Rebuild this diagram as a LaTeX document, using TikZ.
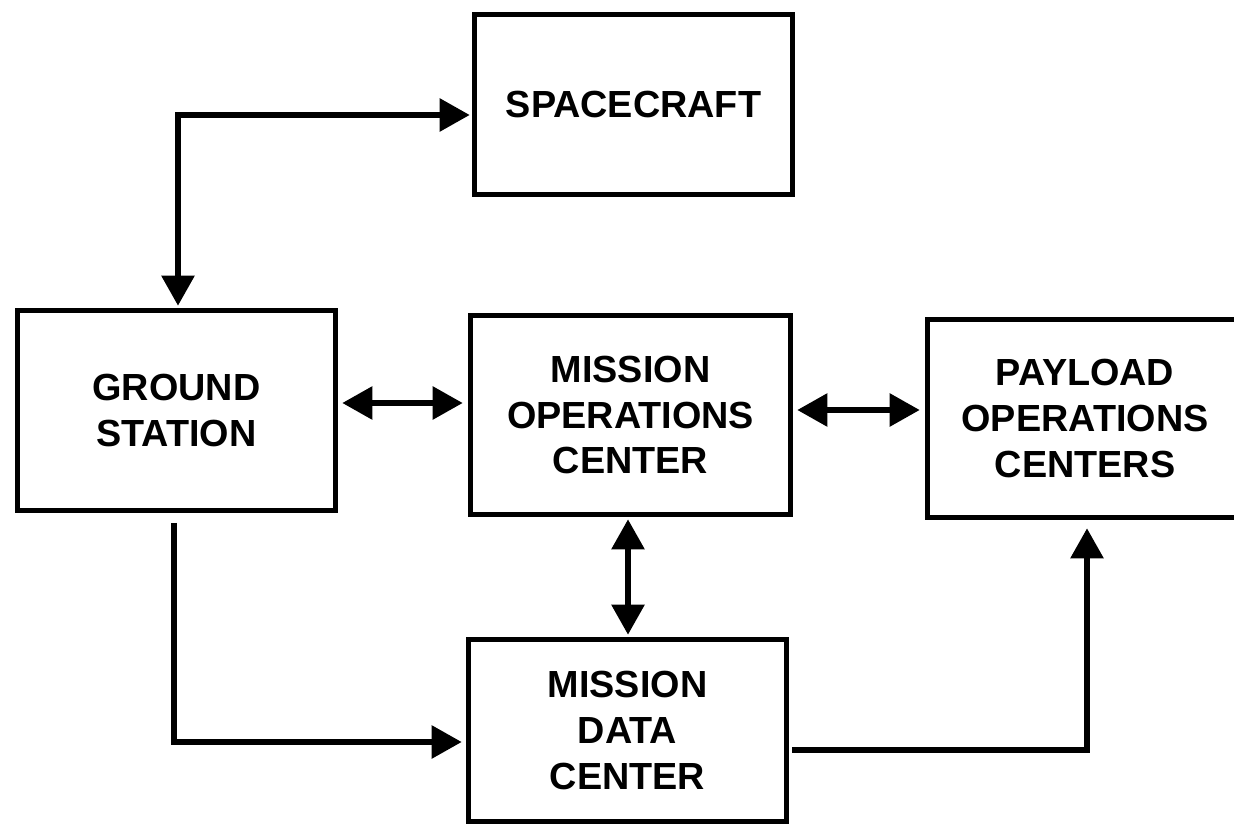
\documentclass[tikz,border=0pt]{standalone}
\usepackage{fontspec}
\setmainfont{Liberation Sans}
\usetikzlibrary{arrows.meta, positioning, calc}

\begin{document}
\begin{tikzpicture}[x=0.02cm, y=-0.02cm,
    every node/.style={font=\fontsize{21.5}{26}\selectfont\bfseries},
    block/.style={draw, line width=3.2pt, align=center, inner sep=0pt},
    link/.style={line width=3.2pt},
    both/.style={link, {Triangle[length=6mm, width=6.4mm]}-{Triangle[length=6mm, width=6.4mm]}},
    one/.style={link, -{Triangle[length=6mm, width=6.4mm]}}]
    \useasboundingbox (0,0) rectangle (1234,824);
    % blocks
    \node[block, minimum width=6.36cm, minimum height=3.6cm] (sc) at (633.5,104.5) {SPACECRAFT};
    \node[block, minimum width=6.36cm, minimum height=4cm] (gs) at (176.5,410.5) {GROUND\\STATION};
    \node[block, minimum width=6.4cm, minimum height=3.98cm] (moc) at (630.5,415) {MISSION\\OPERATIONS\\CENTER};
    \node[block, minimum width=6.3cm, minimum height=3.96cm] (poc) at (1085,418.5) {PAYLOAD\\OPERATIONS\\CENTERS};
    \node[block, minimum width=6.36cm, minimum height=3.64cm] (mdc) at (627.5,730.5) {MISSION\\DATA\\CENTER};
    % links
    \coordinate (up) at (178,115);
    \draw[both] ($(gs.north -| up)+(0,-2)$) |- ($(sc.west |- up)+(-2,0)$);
    \draw[both] ($(gs.east)+(4,-7.5)$) -- ($(moc.west)+(-5,-12)$);
    \draw[both] ($(moc.east)+(4,-5)$) -- ($(poc.west)+(-5,-8.5)$);
    \draw[both] ($(moc.south)+(-2.5,2)$) -- ($(mdc.north)+(0.5,-2)$);
    \draw[one] ($(gs.south)+(-2.5,9.5)$) |- ($(mdc.west)+(-4,11.5)$);
    \draw[one] ($(mdc.east)+(3,19.5)$) -| ($(poc.south)+(2,8)$);
\end{tikzpicture}
\end{document}
